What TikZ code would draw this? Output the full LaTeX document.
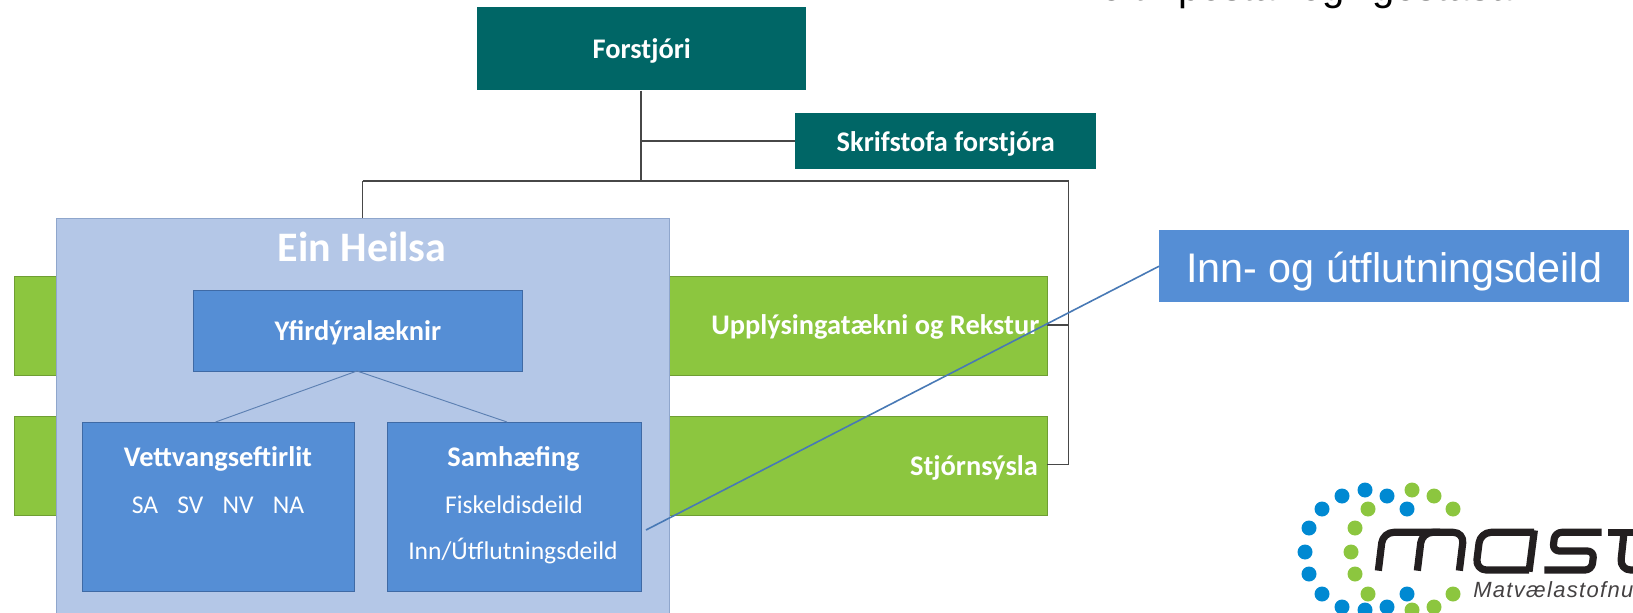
\documentclass[tikz,border=0pt]{standalone}
\usepackage{fontspec}
\setmainfont{Carlito}
\newfontfamily\armo{Liberation Sans}
\newfontfamily\armoi[LetterSpace=6]{Liberation Sans Italic}
\definecolor{teal1}{HTML}{006666}
\definecolor{green1}{HTML}{8CC63F}
\definecolor{green2}{HTML}{6F9E33}
\definecolor{pale}{HTML}{B4C7E7}
\definecolor{paleb}{HTML}{8FA6CC}
\definecolor{blue1}{HTML}{558ED5}
\definecolor{blueb}{HTML}{3F6AA5}
\definecolor{dotb}{HTML}{0089D2}
\definecolor{dotg}{HTML}{8CC63F}
\definecolor{logok}{HTML}{231F20}
\tikzset{x=0.75pt,y=-0.75pt,
  box/.style={rectangle,inner sep=0pt,anchor=north west,align=center},
  org/.style={box,fill=teal1,text=white,font=\bfseries\fontsize{21.3}{23}\selectfont,text height=19pt,text depth=4pt},
  greenbox/.style={box,fill=green1,draw=green2,line width=.6pt},
  unit/.style={box,fill=blue1,draw=blueb,line width=.7pt},
  wire/.style={draw=black!72,line width=.8pt},
  thin blue/.style={draw=blueb!85,line width=.7pt},
  callout/.style={draw=blue1!85!black,line width=1.2pt},
  wlabel/.style={text=white,font=\fontsize{19.2}{21}\selectfont},
  blabel/.style={text=white,font=\bfseries\fontsize{21.3}{23}\selectfont},
  db/.style={circle,fill=dotb,minimum size=11.25pt,inner sep=0pt},
  dg/.style={circle,fill=dotg,minimum size=11.25pt,inner sep=0pt},
  mastline/.style={draw=logok,line width=5.4pt,line join=round,rounded corners=8pt},
  maststem/.style={draw=logok,line width=5.4pt}
}
\begin{document}
\begin{tikzpicture}
\useasboundingbox (0,0) rectangle (1633,613);
\clip (0,0) rectangle (1633,613);
% text cut off by the top edge
\node[anchor=base west,inner sep=0pt,font=\armo\fontsize{30}{32}\selectfont,text=black] (toptext) at (1100,0.5) {eftir póstar og\kern-4.5pt{} í gestasal};
% boxes
\node[org,minimum width=329*.75,minimum height=83*.75] (ceo) at (477,7) {Forstjóri};
\node[org,minimum width=301*.75,minimum height=56*.75] (office) at (795,113) {Skrifstofa forstjóra};
\node[greenbox,minimum width=1033*.75,minimum height=99*.75] (g1) at (13.5,276) {};
\node[greenbox,minimum width=1033*.75,minimum height=99*.75] (g2) at (13.5,415.5) {};
\coordinate (busL) at (362.5,181);
\coordinate (busM) at (641,181);
\coordinate (busR) at (1068.5,181);
\coordinate (r1) at (1068.5,325);
\coordinate (r2) at (1068.5,464.5);
\coordinate (tee) at (641,141);
\draw[wire] (ceo.south -| busM) -- (busM);
\draw[wire] (tee) -- (tee -| office.west);
\draw[wire] (busL) -- (busR) -- (r2) -- (r2 -| g2.east);
\draw[wire] (r1) -- (r1 -| g1.east);
\node[box,fill=pale,draw=paleb,line width=.8pt,minimum width=613*.75,minimum height=420*.75] (one) at (56,217.5) {};
\draw[wire] (busL) -- (busL |- one.north);
\node[unit,blabel,box,text height=19pt,text depth=4pt,minimum width=329*.75,minimum height=81.5*.75] (chief) at (193,289.5) {Yfirdýralæknir};
\node[unit,minimum width=272*.75,minimum height=168.5*.75] (field) at (82,422) {};
\node[unit,minimum width=254*.75,minimum height=168.5*.75] (coord) at (386.5,422) {};
\coordinate (fieldtop) at (215.6,422);
\coordinate (coordtop) at (507,422);
\coordinate (chiefb) at (357,371);
\draw[thin blue] (fieldtop) -- (chiefb) -- (coordtop);
% labels
\node[blabel,anchor=east] (l3) at (1044,327) {Upplýsingatækni og Rekstur};
\node[blabel,anchor=east] (l4) at (1042.5,468) {Stjórnsýsla};
\node[text=white,font=\bfseries\fontsize{31.5}{34}\selectfont] (l5) at (362,247) {Ein Heilsa};
\node[blabel] (l7) at (218,459) {Vettvangseftirlit};
\node[blabel] (l8) at (513.5,459) {Samhæfing};
\node[wlabel] (l9) at (218,505) {SA\hspace{.75em}SV\hspace{.75em}NV\hspace{.75em}NA};
\node[wlabel] (l10) at (514,505) {Fiskeldisdeild};
\node[wlabel] (l11) at (513,551) {Inn/Útflutningsdeild};
% callout
\node[box,fill=blue1,minimum width=470*.75,minimum height=72*.75,font=\armo\fontsize{31}{33}\selectfont,text=white,text height=33pt,text depth=8.2pt] (inn) at (1159,230) {Inn- og útflutningsdeild};
\coordinate (calloutend) at (646,530);
\draw[callout] (calloutend) -- (inn.west);
% logo
\foreach \n/\p in {a/{1342,496},b/{1365,490},c/{1387,496},d/{1407,509},e/{1322,509},f/{1309,528},g/{1305,552},h/{1309,574},i/{1322,594},j/{1342,607},k/{1365,610},l/{1387,607},m/{1407,594}}{\node[db] (dotb\n) at (\p) {};}
\foreach \n/\p in {a/{1412,490},b/{1434,496},c/{1453,509},d/{1368,509},e/{1355,528},f/{1351,552},g/{1355,574},h/{1368,594},i/{1412,610},j/{1434,607},k/{1453,594}}{\node[dg] (dotg\n) at (\p) {};}
\begin{scope}[shift={(1360,520)},x=0.25pt,y=-0.25pt]
 \draw[mastline] (55,152) -- (69,37) -- (312,37) -- (298,152);
 \draw[mastline] (172,152) -- (186,37) -- (240,37);
 \draw[mastline] (522,37) -- (361,37) -- (347,150) -- (507,150);
 \draw[maststem] (523,31) -- (507,155);
 \draw[mastline,rounded corners=5pt] (725,37) -- (585,37) -- (578,93) -- (702,93) -- (695,150) -- (553,150);
 \draw[mastline] (792,37) -- (780,150) -- (840,150);
 \draw[maststem] (745,37) -- (840,37);
\end{scope}
\node[anchor=base west,inner sep=0pt,text=logok!85,font=\armoi\fontsize{16.5}{18}\selectfont] (sub) at (1473,597) {Matvælastofnun};
\end{tikzpicture}
\end{document}
